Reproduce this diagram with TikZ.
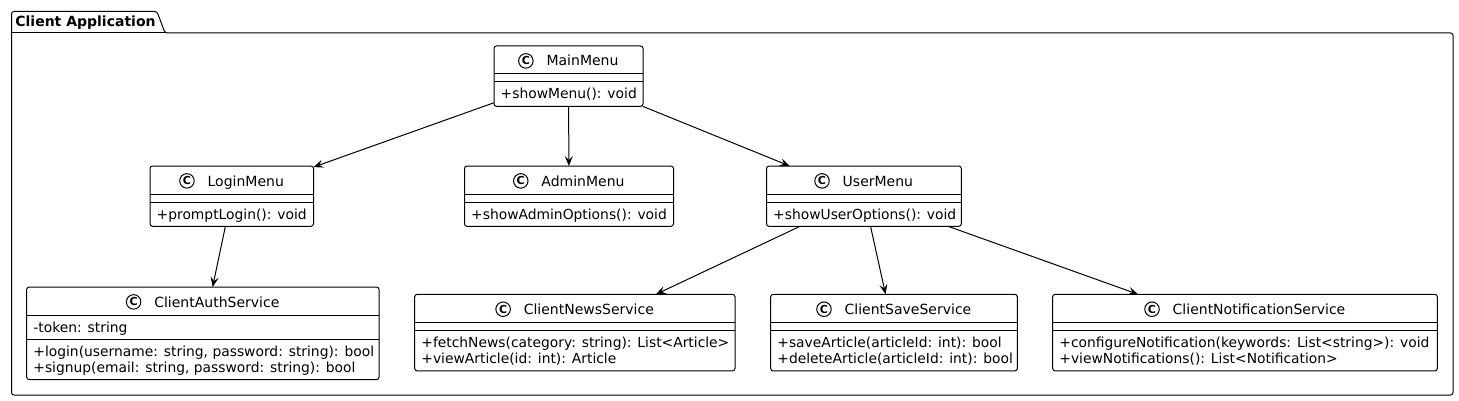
\documentclass[tikz,border=0pt]{standalone}
\usepackage{fontspec}
\setmainfont{DejaVu Sans}
\usetikzlibrary{arrows.meta}
\newcommand\clshead[2]{%
  \node[hdr] (#1-t) at ([xshift=14pt,yshift=-20pt]#1.north) {#2};
  \node[ic] (#1-c) at ([xshift=-20.5pt,yshift=5.1pt]#1-t.base west) {C};
  \draw[sepline] ([yshift=-28pt]#1.north west) -- ([yshift=-28pt]#1.north east);
}
\begin{document}
\begin{tikzpicture}[x=1pt,y=-1pt,
  font=\fontsize{14}{16.3}\selectfont,
  cls/.style={draw, line width=1pt, rounded corners=2.5pt, inner sep=0pt, outer sep=0pt, fill=white},
  hdr/.style={anchor=base, inner sep=0pt},
  mth/.style={anchor=base west, inner sep=0pt, font=\fontsize{13.85}{16.3}\selectfont},
  ic/.style={circle, draw, line width=1pt, fill=white, minimum size=14.5pt, inner sep=0pt, font=\fontsize{11}{11}\selectfont\bfseries},
  dep/.style={draw, line width=1pt, -{Stealth[length=10pt,width=8pt,inset=4pt]}},
  sepline/.style={line width=1pt}]
\useasboundingbox (0,0) rectangle (1459,401);

% package frame
\draw[line width=1pt, rounded corners=2.5pt] (11.5,33) -- (11.5,11.5) -- (157,11.5) -- (165,33) -- (1453,33) -- (1453,395) -- (11.5,395) -- cycle;
\draw[line width=1pt] (11.5,33) -- (165,33);
\node[anchor=base west, inner sep=0pt, font=\fontsize{14}{16}\selectfont\bfseries] (pkg) at (15.2,27) {Client Application};

% classes
\node[cls, minimum width=149pt, minimum height=60.3pt] (main) at (568.5,76.15) {};
\clshead{main}{MainMenu}
\draw[sepline] ([yshift=-36pt]main.north west) -- ([yshift=-36pt]main.north east);
\node[mth] at ([xshift=6.5pt,yshift=-53pt]main.north west) {+showMenu(): void};

\node[cls, minimum width=163.5pt, minimum height=60.3pt] (login) at (231.75,196.15) {};
\clshead{login}{LoginMenu}
\draw[sepline] ([yshift=-36pt]login.north west) -- ([yshift=-36pt]login.north east);
\node[mth] at ([xshift=6.5pt,yshift=-53pt]login.north west) {+promptLogin(): void};

\node[cls, minimum width=209pt, minimum height=60.3pt] (admin) at (569,196.15) {};
\clshead{admin}{AdminMenu}
\draw[sepline] ([yshift=-36pt]admin.north west) -- ([yshift=-36pt]admin.north east);
\node[mth] at ([xshift=6.5pt,yshift=-53pt]admin.north west) {+showAdminOptions(): void};

\node[cls, minimum width=194.8pt, minimum height=60.3pt] (user) at (863.9,196.15) {};
\clshead{user}{UserMenu}
\draw[sepline] ([yshift=-36pt]user.north west) -- ([yshift=-36pt]user.north east);
\node[mth] at ([xshift=6.5pt,yshift=-53pt]user.north west) {+showUserOptions(): void};

\node[cls, minimum width=352.3pt, minimum height=92.6pt] (auth) at (202.85,333.3) {};
\clshead{auth}{ClientAuthService}
\node[mth] at ([xshift=6.5pt,yshift=-45pt]auth.north west) {-token: string};
\draw[sepline] ([yshift=-52.3pt]auth.north west) -- ([yshift=-52.3pt]auth.north east);
\node[mth] at ([xshift=6.5pt,yshift=-69.3pt]auth.north west) {+login(username: string, password: string): bool};
\node[mth] at ([xshift=6.5pt,yshift=-85.6pt]auth.north west) {+signup(email: string, password: string): bool};

\node[cls, minimum width=320.3pt, minimum height=76.6pt] (news) at (574.85,332.6) {};
\clshead{news}{ClientNewsService}
\draw[sepline] ([yshift=-36pt]news.north west) -- ([yshift=-36pt]news.north east);
\node[mth] at ([xshift=6.5pt,yshift=-53pt]news.north west) {+fetchNews(category: string): List<Article>};
\node[mth] at ([xshift=6.5pt,yshift=-69.3pt]news.north west) {+viewArticle(id: int): Article};

\node[cls, minimum width=246.6pt, minimum height=76.6pt] (save) at (894,332.6) {};
\clshead{save}{ClientSaveService}
\draw[sepline] ([yshift=-36pt]save.north west) -- ([yshift=-36pt]save.north east);
\node[mth] at ([xshift=6.5pt,yshift=-53pt]save.north west) {+saveArticle(articleId: int): bool};
\node[mth] at ([xshift=6.5pt,yshift=-69.3pt]save.north west) {+deleteArticle(articleId: int): bool};

\node[cls, minimum width=384.6pt, minimum height=76.6pt] (notif) at (1245,332.6) {};
\clshead{notif}{ClientNotificationService}
\draw[sepline] ([yshift=-36pt]notif.north west) -- ([yshift=-36pt]notif.north east);
\node[mth] at ([xshift=6.5pt,yshift=-53pt]notif.north west) {+configureNotification(keywords: List<string>): void};
\node[mth] at ([xshift=6.5pt,yshift=-69.3pt]notif.north west) {+viewNotifications(): List<Notification>};

% dependencies
\draw[dep] (main) -- (login);
\draw[dep] (main) -- (admin);
\draw[dep] (main) -- (user);
\draw[dep] (login) -- (auth);
\draw[dep] (user) -- (news);
\draw[dep] (user) -- (save);
\draw[dep] (user) -- (notif);
\end{tikzpicture}
\end{document}
